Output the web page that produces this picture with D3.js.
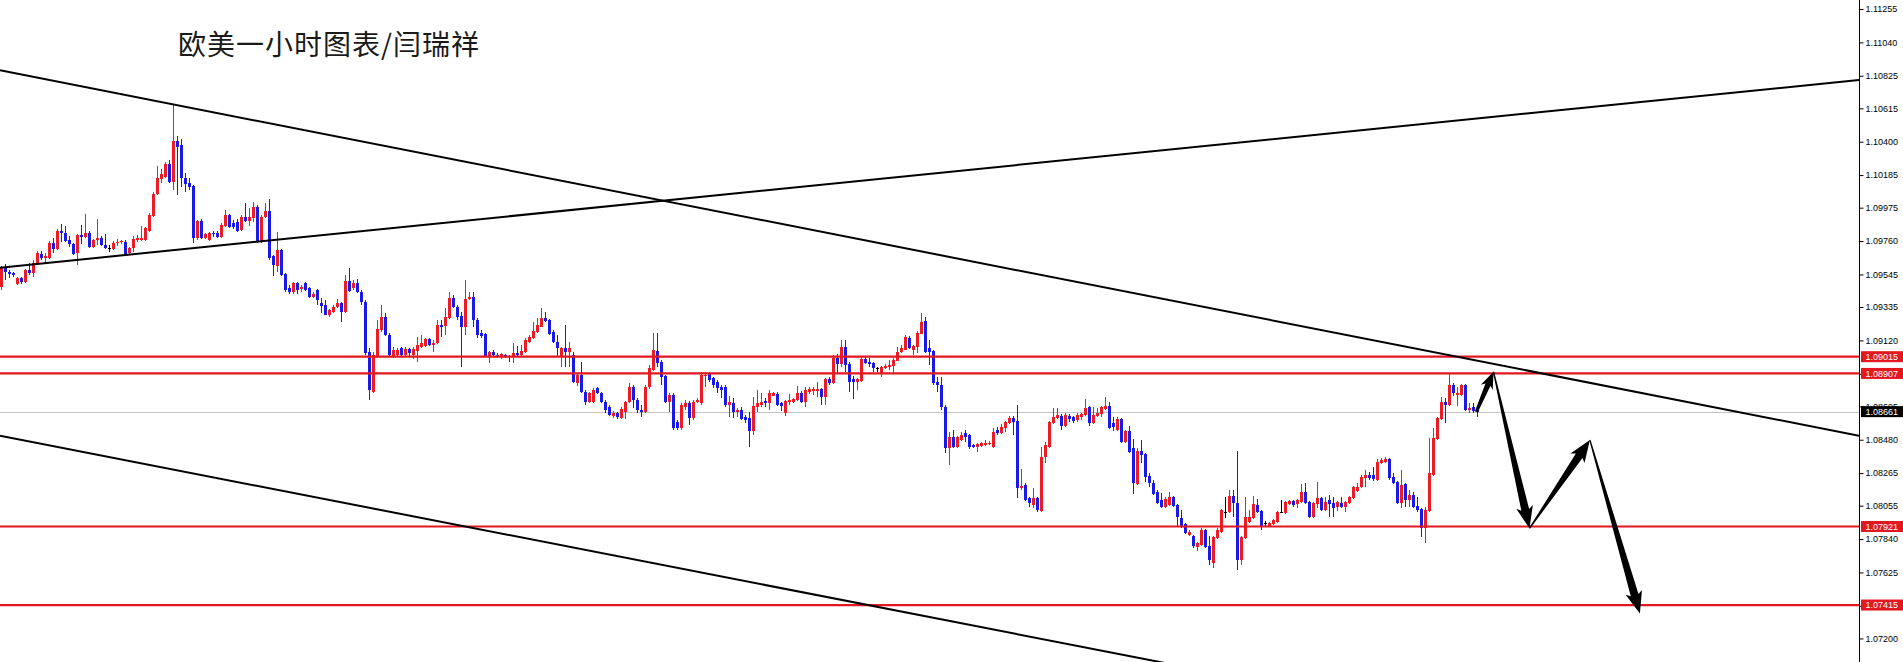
<!DOCTYPE html>
<html><head><meta charset="utf-8">
<script src="https://cdn.jsdelivr.net/npm/d3@7/dist/d3.min.js"></script>
<style>html,body{margin:0;padding:0;background:#fff;overflow:hidden}</style>
</head><body><svg id="c" width="1903" height="662"></svg>
<script>
const title = "欧美一小时图表/闫瑞祥";
const opens = [1.09464,1.09586,1.09561,1.09555,1.09483,1.09522,1.09496,1.09574,1.09555,1.09619,1.09677,1.09651,1.09651,1.09748,1.09709,1.09825,1.09812,1.09767,1.09741,1.09684,1.09799,1.09786,1.09812,1.09722,1.09767,1.09779,1.09735,1.09716,1.09709,1.09748,1.09754,1.09754,1.09684,1.09716,1.09767,1.09767,1.09767,1.09825,1.09921,1.10063,1.10160,1.10173,1.10256,1.10140,1.10405,1.10379,1.10166,1.10134,1.10115,1.09779,1.09890,1.09779,1.09767,1.09812,1.09812,1.09786,1.09857,1.09928,1.09876,1.09883,1.09831,1.09915,1.09890,1.09908,1.09979,1.09754,1.09915,1.09954,1.09664,1.09599,1.09703,1.09548,1.09457,1.09432,1.09490,1.09451,1.09490,1.09457,1.09400,1.09445,1.09362,1.09349,1.09284,1.09303,1.09336,1.09362,1.09303,1.09503,1.09457,1.09490,1.09432,1.09368,1.09046,1.08788,1.09014,1.09188,1.09271,1.09156,1.09014,1.09026,1.09072,1.09026,1.09065,1.09026,1.09052,1.09078,1.09085,1.09130,1.09091,1.09104,1.09220,1.09213,1.09264,1.09393,1.09336,1.09277,1.09207,1.09387,1.09400,1.09252,1.09168,1.09162,1.09014,1.09046,1.09026,1.09014,1.09026,1.09020,1.09014,1.09039,1.09026,1.09046,1.09110,1.09136,1.09175,1.09207,1.09264,1.09252,1.09175,1.09110,1.09014,1.09072,1.09046,1.09026,1.08846,1.08898,1.08788,1.08724,1.08724,1.08814,1.08782,1.08724,1.08692,1.08634,1.08654,1.08621,1.08660,1.08724,1.08820,1.08737,1.08673,1.08660,1.08820,1.08930,1.09052,1.08981,1.08891,1.08724,1.08769,1.08595,1.08557,1.08692,1.08718,1.08621,1.08724,1.08718,1.08891,1.08904,1.08878,1.08853,1.08820,1.08820,1.08705,1.08718,1.08660,1.08673,1.08628,1.08621,1.08537,1.08692,1.08705,1.08731,1.08718,1.08763,1.08775,1.08718,1.08654,1.08724,1.08724,1.08737,1.08782,1.08724,1.08788,1.08795,1.08795,1.08807,1.08756,1.08872,1.08846,1.09007,1.08968,1.09078,1.08968,1.08872,1.08853,1.08859,1.09001,1.08981,1.08975,1.08942,1.08904,1.08942,1.08949,1.08955,1.08988,1.09046,1.09059,1.09136,1.09059,1.09078,1.09162,1.09245,1.09072,1.09052,1.08853,1.08833,1.08692,1.08428,1.08499,1.08434,1.08479,1.08525,1.08512,1.08447,1.08434,1.08441,1.08447,1.08453,1.08434,1.08544,1.08525,1.08557,1.08589,1.08621,1.08602,1.08170,1.08189,1.08105,1.08061,1.08105,1.08022,1.08370,1.08434,1.08589,1.08621,1.08634,1.08570,1.08634,1.08628,1.08608,1.08628,1.08641,1.08692,1.08589,1.08634,1.08647,1.08679,1.08698,1.08589,1.08544,1.08615,1.08466,1.08537,1.08428,1.08196,1.08409,1.08389,1.08247,1.08202,1.08144,1.08093,1.08048,1.08061,1.08112,1.08061,1.07977,1.07938,1.07867,1.07861,1.07790,1.07803,1.07900,1.07797,1.07687,1.07848,1.07887,1.08016,1.08016,1.08118,1.08074,1.07707,1.07848,1.07951,1.07977,1.08061,1.08022,1.07945,1.07925,1.07938,1.07951,1.08016,1.08009,1.08067,1.08087,1.08067,1.08080,1.08144,1.08080,1.07984,1.08067,1.08105,1.08029,1.08093,1.08074,1.08048,1.08074,1.08048,1.08074,1.08105,1.08151,1.08176,1.08235,1.08254,1.08254,1.08222,1.08331,1.08338,1.08357,1.08241,1.08209,1.08074,1.08196,1.08093,1.08125,1.08054,1.08035,1.07912,1.08022,1.08254,1.08486,1.08615,1.08724,1.08705,1.08833,1.08769,1.08769,1.08833,1.08673,1.08692,1.08673];
const highs = [1.09599,1.09612,1.09574,1.09561,1.09529,1.09529,1.09580,1.09619,1.09638,1.09697,1.09697,1.09684,1.09761,1.09779,1.09838,1.09870,1.09857,1.09792,1.09748,1.09805,1.09863,1.09934,1.09825,1.09773,1.09902,1.09792,1.09805,1.09735,1.09761,1.09773,1.09767,1.09767,1.09722,1.09792,1.09799,1.09857,1.09851,1.09941,1.10076,1.10243,1.10224,1.10269,1.10282,1.10637,1.10437,1.10418,1.10199,1.10166,1.10121,1.09896,1.09902,1.09812,1.09818,1.09825,1.09825,1.09876,1.09960,1.09934,1.09896,1.09902,1.09928,1.10006,1.09973,1.10012,1.09992,1.09928,1.10006,1.10031,1.09671,1.09818,1.09709,1.09555,1.09477,1.09496,1.09496,1.09477,1.09496,1.09464,1.09432,1.09451,1.09393,1.09381,1.09323,1.09349,1.09387,1.09368,1.09542,1.09586,1.09509,1.09516,1.09445,1.09381,1.09072,1.09046,1.09252,1.09349,1.09297,1.09168,1.09078,1.09072,1.09078,1.09078,1.09072,1.09078,1.09142,1.09156,1.09136,1.09136,1.09123,1.09252,1.09252,1.09329,1.09432,1.09413,1.09349,1.09303,1.09509,1.09432,1.09432,1.09264,1.09188,1.09168,1.09052,1.09059,1.09039,1.09039,1.09033,1.09026,1.09104,1.09085,1.09091,1.09136,1.09156,1.09239,1.09264,1.09329,1.09303,1.09258,1.09188,1.09156,1.09078,1.09220,1.09110,1.09046,1.08904,1.08981,1.08801,1.08788,1.08814,1.08820,1.08788,1.08737,1.08705,1.08667,1.08660,1.08692,1.08731,1.08846,1.08833,1.08750,1.08705,1.08833,1.08961,1.09168,1.09168,1.08994,1.08898,1.08782,1.08782,1.08608,1.08718,1.08737,1.08731,1.08737,1.08750,1.08917,1.08917,1.08917,1.08885,1.08866,1.08833,1.08833,1.08763,1.08750,1.08686,1.08692,1.08641,1.08660,1.08756,1.08801,1.08782,1.08750,1.08801,1.08788,1.08788,1.08724,1.08737,1.08775,1.08750,1.08827,1.08795,1.08820,1.08820,1.08820,1.08853,1.08814,1.08878,1.08885,1.09026,1.09033,1.09123,1.09123,1.08981,1.08891,1.08878,1.09020,1.09014,1.09007,1.08981,1.08949,1.08955,1.08968,1.08994,1.09007,1.09078,1.09091,1.09156,1.09149,1.09091,1.09181,1.09297,1.09271,1.09123,1.09059,1.08885,1.08885,1.08705,1.08531,1.08544,1.08505,1.08531,1.08544,1.08518,1.08453,1.08460,1.08466,1.08479,1.08473,1.08557,1.08563,1.08582,1.08602,1.08634,1.08634,1.08705,1.08293,1.08202,1.08112,1.08170,1.08112,1.08434,1.08466,1.08602,1.08686,1.08686,1.08647,1.08654,1.08647,1.08634,1.08654,1.08654,1.08743,1.08698,1.08692,1.08686,1.08698,1.08756,1.08724,1.08628,1.08628,1.08621,1.08544,1.08570,1.08486,1.08428,1.08479,1.08396,1.08267,1.08222,1.08157,1.08138,1.08112,1.08144,1.08118,1.08067,1.08029,1.07945,1.07900,1.07867,1.07822,1.07912,1.07906,1.07861,1.07861,1.07912,1.08035,1.08112,1.08157,1.08157,1.08409,1.07861,1.08112,1.08029,1.08118,1.08099,1.08029,1.07958,1.07951,1.07971,1.08022,1.08093,1.08087,1.08093,1.08093,1.08099,1.08196,1.08202,1.08087,1.08080,1.08209,1.08112,1.08112,1.08125,1.08112,1.08087,1.08112,1.08087,1.08118,1.08183,1.08202,1.08254,1.08286,1.08273,1.08306,1.08357,1.08363,1.08370,1.08363,1.08267,1.08215,1.08286,1.08202,1.08157,1.08144,1.08112,1.08041,1.08048,1.08492,1.08557,1.08628,1.08756,1.08750,1.08904,1.08846,1.08820,1.08840,1.08840,1.08718,1.08718,1.08686];
const lows = [1.09445,1.09509,1.09522,1.09529,1.09477,1.09483,1.09490,1.09542,1.09529,1.09606,1.09638,1.09619,1.09645,1.09684,1.09703,1.09754,1.09754,1.09722,1.09671,1.09606,1.09741,1.09779,1.09716,1.09716,1.09735,1.09728,1.09709,1.09690,1.09703,1.09728,1.09741,1.09664,1.09677,1.09690,1.09754,1.09761,1.09761,1.09818,1.09915,1.10057,1.10134,1.10166,1.10134,1.10089,1.10057,1.10108,1.10076,1.10089,1.09748,1.09767,1.09773,1.09773,1.09761,1.09786,1.09779,1.09779,1.09851,1.09844,1.09838,1.09818,1.09825,1.09883,1.09857,1.09883,1.09748,1.09748,1.09908,1.09638,1.09535,1.09561,1.09535,1.09432,1.09419,1.09419,1.09419,1.09432,1.09439,1.09393,1.09393,1.09349,1.09297,1.09284,1.09271,1.09297,1.09329,1.09239,1.09297,1.09432,1.09445,1.09426,1.09349,1.09026,1.08737,1.08782,1.09007,1.09175,1.09149,1.09014,1.09007,1.09014,1.09014,1.09014,1.09014,1.09001,1.08981,1.09072,1.09078,1.09085,1.09046,1.09097,1.09142,1.09156,1.09258,1.09329,1.09252,1.08949,1.09156,1.09381,1.09207,1.09136,1.09136,1.09014,1.08975,1.09014,1.09007,1.09001,1.09007,1.08981,1.08975,1.09020,1.09020,1.09039,1.09104,1.09130,1.09168,1.09207,1.09239,1.09156,1.09104,1.09014,1.08949,1.08949,1.08949,1.08846,1.08827,1.08782,1.08705,1.08718,1.08718,1.08775,1.08718,1.08654,1.08634,1.08621,1.08615,1.08615,1.08615,1.08718,1.08686,1.08654,1.08628,1.08654,1.08807,1.08923,1.08949,1.08833,1.08718,1.08660,1.08544,1.08544,1.08544,1.08673,1.08576,1.08608,1.08718,1.08705,1.08820,1.08853,1.08814,1.08782,1.08750,1.08692,1.08628,1.08621,1.08628,1.08608,1.08589,1.08434,1.08512,1.08660,1.08692,1.08692,1.08673,1.08763,1.08698,1.08667,1.08634,1.08705,1.08718,1.08731,1.08718,1.08692,1.08775,1.08769,1.08756,1.08705,1.08705,1.08833,1.08840,1.08911,1.08949,1.08917,1.08788,1.08743,1.08801,1.08853,1.08968,1.08949,1.08917,1.08917,1.08885,1.08936,1.08930,1.08911,1.08988,1.09039,1.09059,1.09065,1.09026,1.09039,1.09162,1.09039,1.08961,1.08833,1.08788,1.08673,1.08396,1.08318,1.08428,1.08428,1.08473,1.08466,1.08421,1.08428,1.08402,1.08434,1.08441,1.08447,1.08428,1.08512,1.08518,1.08531,1.08582,1.08512,1.08105,1.08157,1.08087,1.08048,1.08041,1.08016,1.08016,1.08331,1.08428,1.08582,1.08615,1.08544,1.08563,1.08595,1.08589,1.08595,1.08608,1.08634,1.08570,1.08582,1.08628,1.08628,1.08673,1.08550,1.08537,1.08537,1.08460,1.08460,1.08396,1.08131,1.08189,1.08331,1.08209,1.08176,1.08125,1.08067,1.08041,1.08041,1.08054,1.08048,1.07919,1.07912,1.07874,1.07861,1.07784,1.07764,1.07797,1.07784,1.07674,1.07655,1.07842,1.07880,1.07977,1.08009,1.07984,1.07642,1.07674,1.07842,1.07945,1.07971,1.08009,1.07900,1.07919,1.07919,1.07932,1.07945,1.08009,1.08003,1.08061,1.08048,1.08041,1.08074,1.08067,1.07977,1.07977,1.08041,1.08022,1.08022,1.07984,1.07984,1.08022,1.08041,1.08016,1.08067,1.08099,1.08144,1.08170,1.08176,1.08222,1.08215,1.08215,1.08325,1.08331,1.08222,1.08196,1.08067,1.08041,1.08048,1.08048,1.08041,1.08016,1.07855,1.07816,1.08016,1.08248,1.08479,1.08608,1.08589,1.08698,1.08763,1.08698,1.08763,1.08667,1.08654,1.08654,1.08628];
const closes = [1.09586,1.09561,1.09548,1.09542,1.09522,1.09496,1.09574,1.09555,1.09619,1.09684,1.09651,1.09664,1.09748,1.09709,1.09825,1.09812,1.09761,1.09741,1.09677,1.09799,1.09786,1.09812,1.09722,1.09767,1.09779,1.09735,1.09716,1.09716,1.09748,1.09754,1.09761,1.09677,1.09716,1.09773,1.09779,1.09779,1.09844,1.09928,1.10063,1.10166,1.10192,1.10256,1.10140,1.10405,1.10366,1.10166,1.10127,1.10108,1.09779,1.09890,1.09779,1.09805,1.09812,1.09805,1.09786,1.09863,1.09928,1.09851,1.09851,1.09825,1.09915,1.09890,1.09915,1.09979,1.09754,1.09915,1.09954,1.09651,1.09606,1.09703,1.09542,1.09445,1.09432,1.09490,1.09445,1.09464,1.09445,1.09400,1.09419,1.09381,1.09342,1.09284,1.09316,1.09336,1.09362,1.09303,1.09503,1.09439,1.09490,1.09432,1.09368,1.09039,1.08801,1.09026,1.09194,1.09271,1.09156,1.09026,1.09059,1.09059,1.09026,1.09065,1.09039,1.09065,1.09091,1.09104,1.09130,1.09091,1.09104,1.09220,1.09207,1.09271,1.09393,1.09336,1.09271,1.09207,1.09387,1.09400,1.09252,1.09156,1.09149,1.09020,1.09046,1.09026,1.09014,1.09033,1.09014,1.09014,1.09039,1.09026,1.09052,1.09123,1.09142,1.09181,1.09220,1.09264,1.09245,1.09162,1.09110,1.09072,1.09072,1.09046,1.09072,1.08853,1.08898,1.08788,1.08724,1.08782,1.08801,1.08782,1.08724,1.08673,1.08641,1.08654,1.08628,1.08679,1.08724,1.08820,1.08737,1.08673,1.08660,1.08820,1.08942,1.09059,1.08975,1.08885,1.08724,1.08769,1.08557,1.08557,1.08705,1.08718,1.08621,1.08724,1.08737,1.08898,1.08898,1.08866,1.08833,1.08814,1.08801,1.08705,1.08724,1.08660,1.08673,1.08615,1.08608,1.08537,1.08698,1.08718,1.08724,1.08718,1.08782,1.08782,1.08705,1.08698,1.08731,1.08737,1.08743,1.08782,1.08724,1.08801,1.08807,1.08807,1.08807,1.08756,1.08872,1.08846,1.09007,1.08968,1.09078,1.08961,1.08853,1.08853,1.08872,1.09001,1.08975,1.08968,1.08942,1.08942,1.08949,1.08955,1.08961,1.08994,1.09046,1.09072,1.09142,1.09072,1.09085,1.09168,1.09239,1.09046,1.09046,1.08846,1.08833,1.08692,1.08428,1.08499,1.08434,1.08499,1.08512,1.08499,1.08434,1.08434,1.08453,1.08460,1.08460,1.08460,1.08531,1.08525,1.08563,1.08595,1.08621,1.08595,1.08170,1.08183,1.08093,1.08074,1.08105,1.08029,1.08370,1.08447,1.08595,1.08628,1.08641,1.08570,1.08641,1.08615,1.08602,1.08641,1.08647,1.08686,1.08589,1.08641,1.08654,1.08692,1.08698,1.08557,1.08563,1.08615,1.08466,1.08537,1.08402,1.08202,1.08409,1.08383,1.08241,1.08202,1.08131,1.08074,1.08048,1.08099,1.08112,1.08054,1.07984,1.07919,1.07880,1.07887,1.07797,1.07816,1.07900,1.07790,1.07707,1.07855,1.07900,1.08029,1.08016,1.08118,1.08074,1.07707,1.07855,1.07984,1.07984,1.08067,1.08016,1.07925,1.07945,1.07945,1.07964,1.08016,1.08016,1.08080,1.08087,1.08061,1.08093,1.08144,1.08074,1.07984,1.08074,1.08105,1.08029,1.08080,1.08067,1.08041,1.08080,1.08048,1.08080,1.08112,1.08176,1.08176,1.08241,1.08254,1.08235,1.08228,1.08338,1.08351,1.08357,1.08235,1.08202,1.08074,1.08189,1.08093,1.08125,1.08048,1.08029,1.07912,1.08029,1.08267,1.08492,1.08621,1.08724,1.08705,1.08833,1.08782,1.08782,1.08833,1.08673,1.08686,1.08667,1.08661];
const yTicks = [1.11255,1.11040,1.10825,1.10615,1.10400,1.10185,1.09975,1.09760,1.09545,1.09335,1.09120,1.08905,1.08695,1.08480,1.08265,1.08055,1.07840,1.07625,1.07410,1.07200];
const levels = [1.09015,1.08907,1.07921,1.07415];
const lastPrice = 1.08661;
// trend lines: two anchor points each [bar index, price], drawn as extended lines
const trendLines = [
  [[0,1.10859],[369,1.08990]],
  [[0,1.09589],[369,1.10549]],
  [[0,1.08505],[250,1.07248]]
];
// forecast arrow path: [bar index, price]
const forecast = [[368.9,1.08660],[373.2,1.08918],[382.2,1.07909],[397.3,1.08478],[409.8,1.07361]];

const W = 1903, H = 662, AX = 1859;
const RED = '#ec1c24', BLUE = '#1a1ae6', LRED = '#e3171f';
const svg = d3.select('#c');
const y = d3.scaleLinear().domain([1.07048, 1.11313]).range([H, 0]);
const x = d3.scaleLinear().domain([0, closes.length - 1]).range([0.7, 1476.7]);

svg.append('defs').append('clipPath').attr('id','plot').append('rect').attr('x',0).attr('y',0).attr('width',AX).attr('height',H);
const plot = svg.append('g').attr('clip-path','url(#plot)');

// current price line
plot.append('line').attr('x1',0).attr('x2',AX).attr('y1',Math.round(y(lastPrice))+0.5).attr('y2',Math.round(y(lastPrice))+0.5)
  .attr('stroke','#c4c4c4').attr('stroke-width',1);

// candles
const bars = d3.range(closes.length).map(i => ({i, o:opens[i], h:highs[i], l:lows[i], c:closes[i]}));
const col = d => d.c > d.o ? RED : (d.c < d.o ? BLUE : '#000');
const cg = plot.append('g').attr('shape-rendering','crispEdges');
cg.selectAll('line').data(bars).join('line')
  .attr('x1', d => Math.round(x(d.i)) + 0.5).attr('x2', d => Math.round(x(d.i)) + 0.5)
  .attr('y1', d => y(d.h)).attr('y2', d => y(d.l)).attr('stroke', col).attr('stroke-width', 1);
cg.selectAll('rect').data(bars).join('rect')
  .attr('x', d => Math.round(x(d.i)) - 1).attr('width', 3)
  .attr('y', d => y(Math.max(d.o, d.c)))
  .attr('height', d => Math.max(1, Math.abs(y(d.o) - y(d.c))))
  .attr('fill', col);

// horizontal levels
plot.selectAll('line.lvl').data(levels).join('line').attr('class','lvl')
  .attr('x1',0).attr('x2',AX).attr('y1',d=>y(d)).attr('y2',d=>y(d))
  .attr('stroke',LRED).attr('stroke-width',2.2);

// trend lines
const a0 = x.invert(0), a1 = x.invert(AX);
trendLines.forEach(([[i1,p1],[i2,p2]]) => {
  const f = t => p1 + (p2 - p1) * (t - i1) / (i2 - i1);
  plot.append('line').attr('x1', x(a0)).attr('y1', y(f(a0))).attr('x2', x(a1)).attr('y2', y(f(a1)))
    .attr('stroke','#000').attr('stroke-width',2);
});

// forecast arrows
function arrowPath(p0, p1, w0, w1, hw, hl) {
  const dx = p1[0]-p0[0], dy = p1[1]-p0[1], L = Math.hypot(dx,dy), ux = dx/L, uy = dy/L, nx = -uy, ny = ux;
  const bx = p1[0]-ux*hl, by = p1[1]-uy*hl;
  const pts = [[p0[0]+nx*w0/2, p0[1]+ny*w0/2],[bx+nx*w1/2, by+ny*w1/2],[bx-ux*3+nx*hw/2, by-uy*3+ny*hw/2],[p1[0],p1[1]],
               [bx-ux*3-nx*hw/2, by-uy*3-ny*hw/2],[bx-nx*w1/2, by-ny*w1/2],[p0[0]-nx*w0/2, p0[1]-ny*w0/2]];
  return 'M' + pts.map(p => p[0].toFixed(2)+','+p[1].toFixed(2)).join('L') + 'Z';
}
const fp = forecast.map(([i,p]) => [x(i), y(p)]);
for (let k = 0; k < fp.length - 1; k++) {
  const st = k === 0 ? [3, 5.5, 13, 14] : [1.2, 8, 17, 19];
  plot.append('path').attr('d', arrowPath(fp[k], fp[k+1], ...st)).attr('fill','#000');
}

// axis
const axis = d3.axisRight(y).tickValues(yTicks).tickFormat(d3.format('.5f')).tickSize(4).tickSizeOuter(0).tickPadding(2);
const ag = svg.append('g').attr('transform', `translate(${AX+0.5},0)`).call(axis);
ag.select('.domain').attr('stroke','#000').attr('d', `M0,0V${H}`);
ag.selectAll('.tick line').attr('stroke','#000');
ag.selectAll('text').attr('font-family','"Liberation Sans", Arial, sans-serif').attr('font-size',9).attr('fill','#000');

// price labels
const lab = svg.append('g');
function priceLabel(p, bg) {
  const yy = y(p);
  lab.append('rect').attr('x', AX+2).attr('y', yy-5.5).attr('width', W-AX-2).attr('height', 11).attr('fill', bg);
  lab.append('text').attr('x', AX+6.5).attr('y', yy).attr('dy','0.34em')
    .attr('font-family','"Liberation Sans", Arial, sans-serif').attr('font-size',9).attr('fill','#fff')
    .text(d3.format('.5f')(p));
}
levels.forEach(p => priceLabel(p, LRED));
priceLabel(lastPrice, '#000');

// title
svg.append('text').attr('x',178).attr('y',55).attr('font-family','"Noto Sans CJK SC", sans-serif')
  .attr('font-size',28).attr('letter-spacing',1).attr('fill','#1a1a1a').text(title);
</script></body></html>
